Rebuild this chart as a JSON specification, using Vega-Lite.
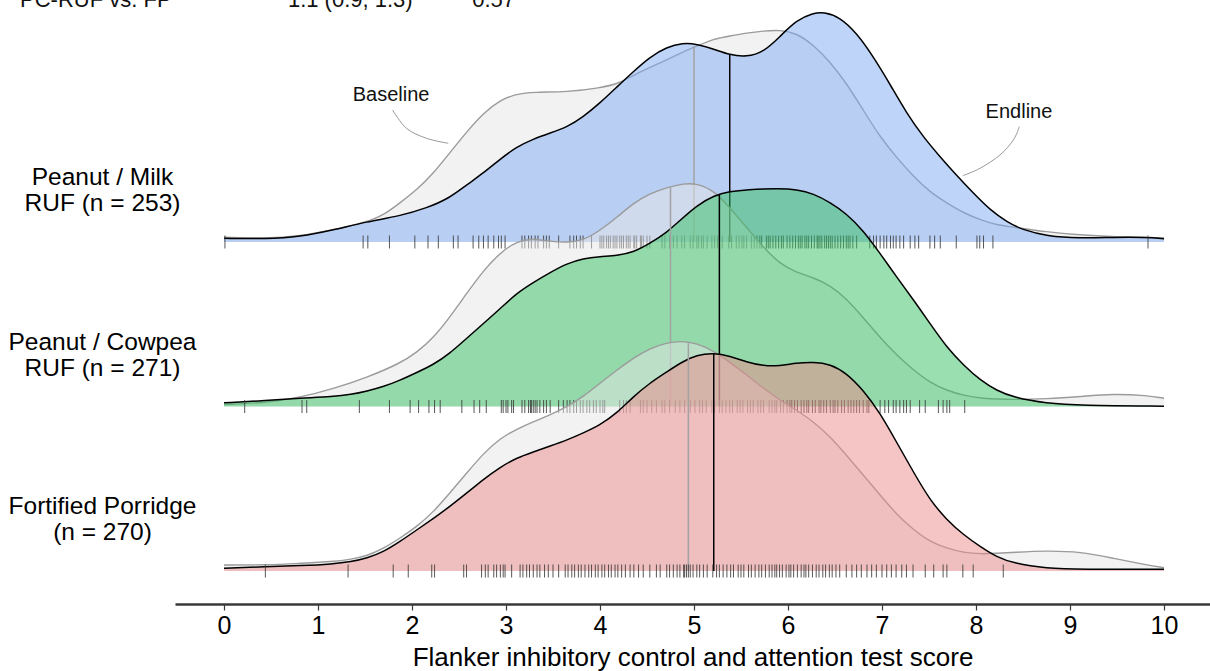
{
"$schema": "https://vega.github.io/schema/vega-lite/v6.json",
"width": 1035, "height": 604,
"autosize": {"type": "none"},
"padding": {"left": 175, "top": 0, "right": 0, "bottom": 67},
"config": {"view": {"stroke": null}, "font": "Liberation Sans", "text": {"font": "Liberation Sans"}},
"data": {"values": [
{"k":"c","g":"M","t":"E","s":0,"h":0.037},{"k":"c","g":"M","t":"E","s":0.45,"h":0.03},{"k":"c","g":"M","t":"E","s":0.81,"h":0.053},{"k":"c","g":"M","t":"E","s":1.16,"h":0.12},{"k":"c","g":"M","t":"E","s":1.52,"h":0.203},{"k":"c","g":"M","t":"E","s":1.87,"h":0.26},{"k":"c","g":"M","t":"E","s":2.16,"h":0.34},{"k":"c","g":"M","t":"E","s":2.4,"h":0.44},{"k":"c","g":"M","t":"E","s":2.58,"h":0.57},{"k":"c","g":"M","t":"E","s":2.76,"h":0.69},{"k":"c","g":"M","t":"E","s":2.94,"h":0.83},{"k":"c","g":"M","t":"E","s":3.11,"h":0.95},{"k":"c","g":"M","t":"E","s":3.29,"h":1.03},{"k":"c","g":"M","t":"E","s":3.47,"h":1.09},{"k":"c","g":"M","t":"E","s":3.65,"h":1.15},{"k":"c","g":"M","t":"E","s":3.82,"h":1.25},{"k":"c","g":"M","t":"E","s":4,"h":1.39},{"k":"c","g":"M","t":"E","s":4.18,"h":1.55},{"k":"c","g":"M","t":"E","s":4.35,"h":1.7},{"k":"c","g":"M","t":"E","s":4.53,"h":1.85},{"k":"c","g":"M","t":"E","s":4.71,"h":1.95},{"k":"c","g":"M","t":"E","s":4.88,"h":1.99},{"k":"c","g":"M","t":"E","s":5.03,"h":1.98},{"k":"c","g":"M","t":"E","s":5.21,"h":1.93},{"k":"c","g":"M","t":"E","s":5.38,"h":1.87},{"k":"c","g":"M","t":"E","s":5.56,"h":1.85},{"k":"c","g":"M","t":"E","s":5.74,"h":1.9},{"k":"c","g":"M","t":"E","s":5.91,"h":2.05},{"k":"c","g":"M","t":"E","s":6.09,"h":2.22},{"k":"c","g":"M","t":"E","s":6.27,"h":2.29},{"k":"c","g":"M","t":"E","s":6.38,"h":2.3},{"k":"c","g":"M","t":"E","s":6.55,"h":2.25},{"k":"c","g":"M","t":"E","s":6.73,"h":2.09},{"k":"c","g":"M","t":"E","s":6.91,"h":1.85},{"k":"c","g":"M","t":"E","s":7.09,"h":1.57},{"k":"c","g":"M","t":"E","s":7.26,"h":1.29},{"k":"c","g":"M","t":"E","s":7.44,"h":1.05},{"k":"c","g":"M","t":"E","s":7.62,"h":0.85},{"k":"c","g":"M","t":"E","s":7.79,"h":0.67},{"k":"c","g":"M","t":"E","s":7.97,"h":0.49},{"k":"c","g":"M","t":"E","s":8.15,"h":0.32},{"k":"c","g":"M","t":"E","s":8.33,"h":0.2},{"k":"c","g":"M","t":"E","s":8.5,"h":0.12},{"k":"c","g":"M","t":"E","s":8.75,"h":0.06},{"k":"c","g":"M","t":"E","s":9.11,"h":0.037},{"k":"c","g":"M","t":"E","s":9.46,"h":0.047},{"k":"c","g":"M","t":"E","s":9.82,"h":0.047},{"k":"c","g":"M","t":"E","s":10,"h":0.033},
{"k":"c","g":"M","t":"B","s":0,"h":0.047},{"k":"c","g":"M","t":"B","s":0.45,"h":0.033},{"k":"c","g":"M","t":"B","s":0.81,"h":0.06},{"k":"c","g":"M","t":"B","s":1.16,"h":0.12},{"k":"c","g":"M","t":"B","s":1.52,"h":0.2},{"k":"c","g":"M","t":"B","s":1.7,"h":0.27},{"k":"c","g":"M","t":"B","s":1.87,"h":0.39},{"k":"c","g":"M","t":"B","s":2.05,"h":0.52},{"k":"c","g":"M","t":"B","s":2.23,"h":0.69},{"k":"c","g":"M","t":"B","s":2.4,"h":0.89},{"k":"c","g":"M","t":"B","s":2.58,"h":1.1},{"k":"c","g":"M","t":"B","s":2.76,"h":1.29},{"k":"c","g":"M","t":"B","s":2.94,"h":1.42},{"k":"c","g":"M","t":"B","s":3.11,"h":1.48},{"k":"c","g":"M","t":"B","s":3.29,"h":1.5},{"k":"c","g":"M","t":"B","s":3.65,"h":1.5},{"k":"c","g":"M","t":"B","s":4,"h":1.54},{"k":"c","g":"M","t":"B","s":4.22,"h":1.59},{"k":"c","g":"M","t":"B","s":4.35,"h":1.67},{"k":"c","g":"M","t":"B","s":4.71,"h":1.82},{"k":"c","g":"M","t":"B","s":4.88,"h":1.9},{"k":"c","g":"M","t":"B","s":5.03,"h":1.96},{"k":"c","g":"M","t":"B","s":5.21,"h":2.03},{"k":"c","g":"M","t":"B","s":5.38,"h":2.06},{"k":"c","g":"M","t":"B","s":5.56,"h":2.09},{"k":"c","g":"M","t":"B","s":5.74,"h":2.11},{"k":"c","g":"M","t":"B","s":5.91,"h":2.12},{"k":"c","g":"M","t":"B","s":6.09,"h":2.09},{"k":"c","g":"M","t":"B","s":6.27,"h":1.97},{"k":"c","g":"M","t":"B","s":6.45,"h":1.8},{"k":"c","g":"M","t":"B","s":6.62,"h":1.59},{"k":"c","g":"M","t":"B","s":6.8,"h":1.32},{"k":"c","g":"M","t":"B","s":6.98,"h":1.05},{"k":"c","g":"M","t":"B","s":7.16,"h":0.84},{"k":"c","g":"M","t":"B","s":7.34,"h":0.65},{"k":"c","g":"M","t":"B","s":7.51,"h":0.5},{"k":"c","g":"M","t":"B","s":7.69,"h":0.39},{"k":"c","g":"M","t":"B","s":7.87,"h":0.29},{"k":"c","g":"M","t":"B","s":8.05,"h":0.22},{"k":"c","g":"M","t":"B","s":8.22,"h":0.17},{"k":"c","g":"M","t":"B","s":8.4,"h":0.15},{"k":"c","g":"M","t":"B","s":8.75,"h":0.1},{"k":"c","g":"M","t":"B","s":9.11,"h":0.07},{"k":"c","g":"M","t":"B","s":9.46,"h":0.053},{"k":"c","g":"M","t":"B","s":10,"h":0.04},
{"k":"c","g":"C","t":"E","s":0,"h":0.037},{"k":"c","g":"C","t":"E","s":0.45,"h":0.06},{"k":"c","g":"C","t":"E","s":0.81,"h":0.083},{"k":"c","g":"C","t":"E","s":1.16,"h":0.1},{"k":"c","g":"C","t":"E","s":1.35,"h":0.12},{"k":"c","g":"C","t":"E","s":1.52,"h":0.153},{"k":"c","g":"C","t":"E","s":1.7,"h":0.2},{"k":"c","g":"C","t":"E","s":1.87,"h":0.26},{"k":"c","g":"C","t":"E","s":2.05,"h":0.34},{"k":"c","g":"C","t":"E","s":2.23,"h":0.42},{"k":"c","g":"C","t":"E","s":2.4,"h":0.53},{"k":"c","g":"C","t":"E","s":2.58,"h":0.68},{"k":"c","g":"C","t":"E","s":2.76,"h":0.83},{"k":"c","g":"C","t":"E","s":2.94,"h":0.98},{"k":"c","g":"C","t":"E","s":3.11,"h":1.13},{"k":"c","g":"C","t":"E","s":3.29,"h":1.24},{"k":"c","g":"C","t":"E","s":3.47,"h":1.34},{"k":"c","g":"C","t":"E","s":3.65,"h":1.43},{"k":"c","g":"C","t":"E","s":3.82,"h":1.48},{"k":"c","g":"C","t":"E","s":4,"h":1.5},{"k":"c","g":"C","t":"E","s":4.18,"h":1.51},{"k":"c","g":"C","t":"E","s":4.35,"h":1.54},{"k":"c","g":"C","t":"E","s":4.53,"h":1.63},{"k":"c","g":"C","t":"E","s":4.71,"h":1.74},{"k":"c","g":"C","t":"E","s":4.85,"h":1.86},{"k":"c","g":"C","t":"E","s":5.03,"h":2.01},{"k":"c","g":"C","t":"E","s":5.21,"h":2.11},{"k":"c","g":"C","t":"E","s":5.38,"h":2.15},{"k":"c","g":"C","t":"E","s":5.56,"h":2.17},{"k":"c","g":"C","t":"E","s":5.91,"h":2.18},{"k":"c","g":"C","t":"E","s":6.09,"h":2.17},{"k":"c","g":"C","t":"E","s":6.27,"h":2.13},{"k":"c","g":"C","t":"E","s":6.45,"h":2.04},{"k":"c","g":"C","t":"E","s":6.62,"h":1.93},{"k":"c","g":"C","t":"E","s":6.8,"h":1.76},{"k":"c","g":"C","t":"E","s":6.98,"h":1.53},{"k":"c","g":"C","t":"E","s":7.16,"h":1.29},{"k":"c","g":"C","t":"E","s":7.34,"h":1.06},{"k":"c","g":"C","t":"E","s":7.51,"h":0.83},{"k":"c","g":"C","t":"E","s":7.69,"h":0.59},{"k":"c","g":"C","t":"E","s":7.87,"h":0.41},{"k":"c","g":"C","t":"E","s":8.05,"h":0.26},{"k":"c","g":"C","t":"E","s":8.22,"h":0.16},{"k":"c","g":"C","t":"E","s":8.4,"h":0.09},{"k":"c","g":"C","t":"E","s":8.75,"h":0.03},{"k":"c","g":"C","t":"E","s":9.11,"h":0.01},{"k":"c","g":"C","t":"E","s":10,"h":0.003},
{"k":"c","g":"C","t":"B","s":0,"h":0.02},{"k":"c","g":"C","t":"B","s":0.45,"h":0.037},{"k":"c","g":"C","t":"B","s":0.81,"h":0.09},{"k":"c","g":"C","t":"B","s":1.16,"h":0.177},{"k":"c","g":"C","t":"B","s":1.52,"h":0.29},{"k":"c","g":"C","t":"B","s":1.87,"h":0.43},{"k":"c","g":"C","t":"B","s":2.05,"h":0.54},{"k":"c","g":"C","t":"B","s":2.23,"h":0.69},{"k":"c","g":"C","t":"B","s":2.4,"h":0.89},{"k":"c","g":"C","t":"B","s":2.58,"h":1.13},{"k":"c","g":"C","t":"B","s":2.76,"h":1.36},{"k":"c","g":"C","t":"B","s":2.94,"h":1.54},{"k":"c","g":"C","t":"B","s":3.11,"h":1.65},{"k":"c","g":"C","t":"B","s":3.29,"h":1.68},{"k":"c","g":"C","t":"B","s":3.47,"h":1.65},{"k":"c","g":"C","t":"B","s":3.65,"h":1.64},{"k":"c","g":"C","t":"B","s":3.82,"h":1.66},{"k":"c","g":"C","t":"B","s":4,"h":1.76},{"k":"c","g":"C","t":"B","s":4.18,"h":1.89},{"k":"c","g":"C","t":"B","s":4.35,"h":2.03},{"k":"c","g":"C","t":"B","s":4.53,"h":2.13},{"k":"c","g":"C","t":"B","s":4.71,"h":2.19},{"k":"c","g":"C","t":"B","s":4.89,"h":2.23},{"k":"c","g":"C","t":"B","s":5.03,"h":2.23},{"k":"c","g":"C","t":"B","s":5.21,"h":2.16},{"k":"c","g":"C","t":"B","s":5.38,"h":1.99},{"k":"c","g":"C","t":"B","s":5.56,"h":1.79},{"k":"c","g":"C","t":"B","s":5.74,"h":1.59},{"k":"c","g":"C","t":"B","s":5.91,"h":1.43},{"k":"c","g":"C","t":"B","s":6.09,"h":1.34},{"k":"c","g":"C","t":"B","s":6.27,"h":1.29},{"k":"c","g":"C","t":"B","s":6.45,"h":1.21},{"k":"c","g":"C","t":"B","s":6.62,"h":1.08},{"k":"c","g":"C","t":"B","s":6.8,"h":0.89},{"k":"c","g":"C","t":"B","s":6.98,"h":0.69},{"k":"c","g":"C","t":"B","s":7.16,"h":0.51},{"k":"c","g":"C","t":"B","s":7.34,"h":0.36},{"k":"c","g":"C","t":"B","s":7.51,"h":0.24},{"k":"c","g":"C","t":"B","s":7.69,"h":0.16},{"k":"c","g":"C","t":"B","s":7.87,"h":0.11},{"k":"c","g":"C","t":"B","s":8.05,"h":0.08},{"k":"c","g":"C","t":"B","s":8.4,"h":0.067},{"k":"c","g":"C","t":"B","s":8.75,"h":0.077},{"k":"c","g":"C","t":"B","s":9.11,"h":0.1},{"k":"c","g":"C","t":"B","s":9.46,"h":0.127},{"k":"c","g":"C","t":"B","s":9.82,"h":0.11},{"k":"c","g":"C","t":"B","s":10,"h":0.083},
{"k":"c","g":"F","t":"E","s":0,"h":0.027},{"k":"c","g":"F","t":"E","s":0.45,"h":0.043},{"k":"c","g":"F","t":"E","s":0.81,"h":0.053},{"k":"c","g":"F","t":"E","s":1.16,"h":0.07},{"k":"c","g":"F","t":"E","s":1.35,"h":0.093},{"k":"c","g":"F","t":"E","s":1.52,"h":0.127},{"k":"c","g":"F","t":"E","s":1.7,"h":0.193},{"k":"c","g":"F","t":"E","s":1.87,"h":0.293},{"k":"c","g":"F","t":"E","s":2.05,"h":0.41},{"k":"c","g":"F","t":"E","s":2.23,"h":0.527},{"k":"c","g":"F","t":"E","s":2.4,"h":0.643},{"k":"c","g":"F","t":"E","s":2.58,"h":0.777},{"k":"c","g":"F","t":"E","s":2.76,"h":0.917},{"k":"c","g":"F","t":"E","s":2.94,"h":1.04},{"k":"c","g":"F","t":"E","s":3.11,"h":1.13},{"k":"c","g":"F","t":"E","s":3.29,"h":1.19},{"k":"c","g":"F","t":"E","s":3.47,"h":1.25},{"k":"c","g":"F","t":"E","s":3.65,"h":1.31},{"k":"c","g":"F","t":"E","s":3.82,"h":1.38},{"k":"c","g":"F","t":"E","s":4,"h":1.46},{"k":"c","g":"F","t":"E","s":4.18,"h":1.58},{"k":"c","g":"F","t":"E","s":4.35,"h":1.74},{"k":"c","g":"F","t":"E","s":4.53,"h":1.88},{"k":"c","g":"F","t":"E","s":4.71,"h":1.99},{"k":"c","g":"F","t":"E","s":4.87,"h":2.09},{"k":"c","g":"F","t":"E","s":5.03,"h":2.16},{"k":"c","g":"F","t":"E","s":5.21,"h":2.18},{"k":"c","g":"F","t":"E","s":5.38,"h":2.15},{"k":"c","g":"F","t":"E","s":5.56,"h":2.09},{"k":"c","g":"F","t":"E","s":5.74,"h":2.05},{"k":"c","g":"F","t":"E","s":5.91,"h":2.05},{"k":"c","g":"F","t":"E","s":6.09,"h":2.08},{"k":"c","g":"F","t":"E","s":6.27,"h":2.09},{"k":"c","g":"F","t":"E","s":6.45,"h":2.07},{"k":"c","g":"F","t":"E","s":6.62,"h":1.98},{"k":"c","g":"F","t":"E","s":6.8,"h":1.81},{"k":"c","g":"F","t":"E","s":6.98,"h":1.58},{"k":"c","g":"F","t":"E","s":7.16,"h":1.28},{"k":"c","g":"F","t":"E","s":7.34,"h":0.98},{"k":"c","g":"F","t":"E","s":7.51,"h":0.71},{"k":"c","g":"F","t":"E","s":7.69,"h":0.51},{"k":"c","g":"F","t":"E","s":7.87,"h":0.36},{"k":"c","g":"F","t":"E","s":8.05,"h":0.24},{"k":"c","g":"F","t":"E","s":8.22,"h":0.14},{"k":"c","g":"F","t":"E","s":8.4,"h":0.077},{"k":"c","g":"F","t":"E","s":8.75,"h":0.027},{"k":"c","g":"F","t":"E","s":9.11,"h":0.017},{"k":"c","g":"F","t":"E","s":10,"h":0.017},
{"k":"c","g":"F","t":"B","s":0,"h":0.06},{"k":"c","g":"F","t":"B","s":0.45,"h":0.06},{"k":"c","g":"F","t":"B","s":0.81,"h":0.077},{"k":"c","g":"F","t":"B","s":1.16,"h":0.093},{"k":"c","g":"F","t":"B","s":1.35,"h":0.117},{"k":"c","g":"F","t":"B","s":1.52,"h":0.15},{"k":"c","g":"F","t":"B","s":1.7,"h":0.227},{"k":"c","g":"F","t":"B","s":1.87,"h":0.327},{"k":"c","g":"F","t":"B","s":2.05,"h":0.443},{"k":"c","g":"F","t":"B","s":2.23,"h":0.593},{"k":"c","g":"F","t":"B","s":2.4,"h":0.777},{"k":"c","g":"F","t":"B","s":2.58,"h":0.977},{"k":"c","g":"F","t":"B","s":2.76,"h":1.177},{"k":"c","g":"F","t":"B","s":2.94,"h":1.327},{"k":"c","g":"F","t":"B","s":3.11,"h":1.417},{"k":"c","g":"F","t":"B","s":3.29,"h":1.493},{"k":"c","g":"F","t":"B","s":3.47,"h":1.56},{"k":"c","g":"F","t":"B","s":3.65,"h":1.643},{"k":"c","g":"F","t":"B","s":3.82,"h":1.743},{"k":"c","g":"F","t":"B","s":4,"h":1.877},{"k":"c","g":"F","t":"B","s":4.18,"h":2.01},{"k":"c","g":"F","t":"B","s":4.35,"h":2.127},{"k":"c","g":"F","t":"B","s":4.53,"h":2.227},{"k":"c","g":"F","t":"B","s":4.71,"h":2.283},{"k":"c","g":"F","t":"B","s":4.87,"h":2.3},{"k":"c","g":"F","t":"B","s":5.03,"h":2.277},{"k":"c","g":"F","t":"B","s":5.21,"h":2.2},{"k":"c","g":"F","t":"B","s":5.38,"h":2.09},{"k":"c","g":"F","t":"B","s":5.56,"h":1.96},{"k":"c","g":"F","t":"B","s":5.74,"h":1.827},{"k":"c","g":"F","t":"B","s":5.91,"h":1.71},{"k":"c","g":"F","t":"B","s":6.09,"h":1.61},{"k":"c","g":"F","t":"B","s":6.27,"h":1.493},{"k":"c","g":"F","t":"B","s":6.45,"h":1.343},{"k":"c","g":"F","t":"B","s":6.62,"h":1.16},{"k":"c","g":"F","t":"B","s":6.8,"h":0.96},{"k":"c","g":"F","t":"B","s":6.98,"h":0.76},{"k":"c","g":"F","t":"B","s":7.16,"h":0.56},{"k":"c","g":"F","t":"B","s":7.34,"h":0.41},{"k":"c","g":"F","t":"B","s":7.51,"h":0.293},{"k":"c","g":"F","t":"B","s":7.69,"h":0.227},{"k":"c","g":"F","t":"B","s":7.87,"h":0.183},{"k":"c","g":"F","t":"B","s":8.05,"h":0.17},{"k":"c","g":"F","t":"B","s":8.22,"h":0.177},{"k":"c","g":"F","t":"B","s":8.4,"h":0.187},{"k":"c","g":"F","t":"B","s":8.75,"h":0.203},{"k":"c","g":"F","t":"B","s":9.11,"h":0.193},{"k":"c","g":"F","t":"B","s":9.46,"h":0.127},{"k":"c","g":"F","t":"B","s":9.82,"h":0.06},{"k":"c","g":"F","t":"B","s":10,"h":0.033},
{"k":"q","g":"M","t":"B","s":5.0,"h":1.96},{"k":"q","g":"M","t":"E","s":5.38,"h":1.87},{"k":"q","g":"C","t":"B","s":4.75,"h":2.19},{"k":"q","g":"C","t":"E","s":5.27,"h":2.12},{"k":"q","g":"F","t":"B","s":4.94,"h":2.29},{"k":"q","g":"F","t":"E","s":5.21,"h":2.18},
{"k":"r","g":"M","s":0.01},{"k":"r","g":"M","s":1.48},{"k":"r","g":"M","s":1.53},{"k":"r","g":"M","s":1.76},{"k":"r","g":"M","s":2.03},{"k":"r","g":"M","s":2.17},{"k":"r","g":"M","s":2.28},{"k":"r","g":"M","s":2.44},{"k":"r","g":"M","s":2.49},{"k":"r","g":"M","s":2.65},{"k":"r","g":"M","s":2.71},{"k":"r","g":"M","s":2.76},{"k":"r","g":"M","s":2.81},{"k":"r","g":"M","s":2.87},{"k":"r","g":"M","s":2.92},{"k":"r","g":"M","s":2.95},{"k":"r","g":"M","s":2.99},{"k":"r","g":"M","s":3.17},{"k":"r","g":"M","s":3.2},{"k":"r","g":"M","s":3.24},{"k":"r","g":"M","s":3.27},{"k":"r","g":"M","s":3.31},{"k":"r","g":"M","s":3.34},{"k":"r","g":"M","s":3.4},{"k":"r","g":"M","s":3.43},{"k":"r","g":"M","s":3.46},{"k":"r","g":"M","s":3.56},{"k":"r","g":"M","s":3.68},{"k":"r","g":"M","s":3.72},{"k":"r","g":"M","s":3.75},{"k":"r","g":"M","s":3.79},{"k":"r","g":"M","s":3.82},{"k":"r","g":"M","s":3.91},{"k":"r","g":"M","s":4.0},{"k":"r","g":"M","s":4.02},{"k":"r","g":"M","s":4.04},{"k":"r","g":"M","s":4.07},{"k":"r","g":"M","s":4.09},{"k":"r","g":"M","s":4.11},{"k":"r","g":"M","s":4.14},{"k":"r","g":"M","s":4.16},{"k":"r","g":"M","s":4.18},{"k":"r","g":"M","s":4.21},{"k":"r","g":"M","s":4.23},{"k":"r","g":"M","s":4.25},{"k":"r","g":"M","s":4.28},{"k":"r","g":"M","s":4.3},{"k":"r","g":"M","s":4.32},{"k":"r","g":"M","s":4.36},{"k":"r","g":"M","s":4.37},{"k":"r","g":"M","s":4.39},{"k":"r","g":"M","s":4.43},{"k":"r","g":"M","s":4.44},{"k":"r","g":"M","s":4.46},{"k":"r","g":"M","s":4.5},{"k":"r","g":"M","s":4.53},{"k":"r","g":"M","s":4.66},{"k":"r","g":"M","s":4.69},{"k":"r","g":"M","s":4.74},{"k":"r","g":"M","s":4.78},{"k":"r","g":"M","s":4.82},{"k":"r","g":"M","s":4.87},{"k":"r","g":"M","s":4.9},{"k":"r","g":"M","s":4.96},{"k":"r","g":"M","s":4.99},{"k":"r","g":"M","s":5.03},{"k":"r","g":"M","s":5.05},{"k":"r","g":"M","s":5.08},{"k":"r","g":"M","s":5.1},{"k":"r","g":"M","s":5.14},{"k":"r","g":"M","s":5.19},{"k":"r","g":"M","s":5.22},{"k":"r","g":"M","s":5.25},{"k":"r","g":"M","s":5.3},{"k":"r","g":"M","s":5.37},{"k":"r","g":"M","s":5.4},{"k":"r","g":"M","s":5.45},{"k":"r","g":"M","s":5.48},{"k":"r","g":"M","s":5.51},{"k":"r","g":"M","s":5.53},{"k":"r","g":"M","s":5.56},{"k":"r","g":"M","s":5.61},{"k":"r","g":"M","s":5.64},{"k":"r","g":"M","s":5.67},{"k":"r","g":"M","s":5.7},{"k":"r","g":"M","s":5.72},{"k":"r","g":"M","s":5.77},{"k":"r","g":"M","s":5.79},{"k":"r","g":"M","s":5.81},{"k":"r","g":"M","s":5.84},{"k":"r","g":"M","s":5.87},{"k":"r","g":"M","s":5.9},{"k":"r","g":"M","s":5.93},{"k":"r","g":"M","s":5.95},{"k":"r","g":"M","s":5.99},{"k":"r","g":"M","s":6.02},{"k":"r","g":"M","s":6.05},{"k":"r","g":"M","s":6.08},{"k":"r","g":"M","s":6.11},{"k":"r","g":"M","s":6.13},{"k":"r","g":"M","s":6.15},{"k":"r","g":"M","s":6.18},{"k":"r","g":"M","s":6.2},{"k":"r","g":"M","s":6.22},{"k":"r","g":"M","s":6.25},{"k":"r","g":"M","s":6.28},{"k":"r","g":"M","s":6.31},{"k":"r","g":"M","s":6.32},{"k":"r","g":"M","s":6.34},{"k":"r","g":"M","s":6.36},{"k":"r","g":"M","s":6.39},{"k":"r","g":"M","s":6.41},{"k":"r","g":"M","s":6.43},{"k":"r","g":"M","s":6.45},{"k":"r","g":"M","s":6.47},{"k":"r","g":"M","s":6.5},{"k":"r","g":"M","s":6.53},{"k":"r","g":"M","s":6.56},{"k":"r","g":"M","s":6.59},{"k":"r","g":"M","s":6.62},{"k":"r","g":"M","s":6.64},{"k":"r","g":"M","s":6.66},{"k":"r","g":"M","s":6.69},{"k":"r","g":"M","s":6.73},{"k":"r","g":"M","s":6.87},{"k":"r","g":"M","s":6.91},{"k":"r","g":"M","s":6.94},{"k":"r","g":"M","s":6.98},{"k":"r","g":"M","s":7.02},{"k":"r","g":"M","s":7.05},{"k":"r","g":"M","s":7.09},{"k":"r","g":"M","s":7.12},{"k":"r","g":"M","s":7.15},{"k":"r","g":"M","s":7.19},{"k":"r","g":"M","s":7.23},{"k":"r","g":"M","s":7.3},{"k":"r","g":"M","s":7.35},{"k":"r","g":"M","s":7.39},{"k":"r","g":"M","s":7.51},{"k":"r","g":"M","s":7.56},{"k":"r","g":"M","s":7.62},{"k":"r","g":"M","s":7.79},{"k":"r","g":"M","s":8.01},{"k":"r","g":"M","s":8.04},{"k":"r","g":"M","s":8.08},{"k":"r","g":"M","s":8.18},{"k":"r","g":"M","s":9.83},
{"k":"r","g":"C","s":0.22},{"k":"r","g":"C","s":0.83},{"k":"r","g":"C","s":0.88},{"k":"r","g":"C","s":1.44},{"k":"r","g":"C","s":1.76},{"k":"r","g":"C","s":1.98},{"k":"r","g":"C","s":2.07},{"k":"r","g":"C","s":2.18},{"k":"r","g":"C","s":2.24},{"k":"r","g":"C","s":2.3},{"k":"r","g":"C","s":2.53},{"k":"r","g":"C","s":2.66},{"k":"r","g":"C","s":2.72},{"k":"r","g":"C","s":2.79},{"k":"r","g":"C","s":2.95},{"k":"r","g":"C","s":2.97},{"k":"r","g":"C","s":3.0},{"k":"r","g":"C","s":3.02},{"k":"r","g":"C","s":3.06},{"k":"r","g":"C","s":3.08},{"k":"r","g":"C","s":3.17},{"k":"r","g":"C","s":3.2},{"k":"r","g":"C","s":3.24},{"k":"r","g":"C","s":3.26},{"k":"r","g":"C","s":3.27},{"k":"r","g":"C","s":3.29},{"k":"r","g":"C","s":3.31},{"k":"r","g":"C","s":3.33},{"k":"r","g":"C","s":3.36},{"k":"r","g":"C","s":3.4},{"k":"r","g":"C","s":3.43},{"k":"r","g":"C","s":3.47},{"k":"r","g":"C","s":3.56},{"k":"r","g":"C","s":3.61},{"k":"r","g":"C","s":3.65},{"k":"r","g":"C","s":3.68},{"k":"r","g":"C","s":3.72},{"k":"r","g":"C","s":3.75},{"k":"r","g":"C","s":3.79},{"k":"r","g":"C","s":3.82},{"k":"r","g":"C","s":3.86},{"k":"r","g":"C","s":3.89},{"k":"r","g":"C","s":3.93},{"k":"r","g":"C","s":3.96},{"k":"r","g":"C","s":4.0},{"k":"r","g":"C","s":4.03},{"k":"r","g":"C","s":4.05},{"k":"r","g":"C","s":4.21},{"k":"r","g":"C","s":4.25},{"k":"r","g":"C","s":4.28},{"k":"r","g":"C","s":4.32},{"k":"r","g":"C","s":4.43},{"k":"r","g":"C","s":4.46},{"k":"r","g":"C","s":4.5},{"k":"r","g":"C","s":4.55},{"k":"r","g":"C","s":4.6},{"k":"r","g":"C","s":4.66},{"k":"r","g":"C","s":4.69},{"k":"r","g":"C","s":4.74},{"k":"r","g":"C","s":4.8},{"k":"r","g":"C","s":4.85},{"k":"r","g":"C","s":4.9},{"k":"r","g":"C","s":4.96},{"k":"r","g":"C","s":5.01},{"k":"r","g":"C","s":5.06},{"k":"r","g":"C","s":5.09},{"k":"r","g":"C","s":5.13},{"k":"r","g":"C","s":5.19},{"k":"r","g":"C","s":5.22},{"k":"r","g":"C","s":5.27},{"k":"r","g":"C","s":5.3},{"k":"r","g":"C","s":5.34},{"k":"r","g":"C","s":5.38},{"k":"r","g":"C","s":5.41},{"k":"r","g":"C","s":5.46},{"k":"r","g":"C","s":5.49},{"k":"r","g":"C","s":5.52},{"k":"r","g":"C","s":5.57},{"k":"r","g":"C","s":5.6},{"k":"r","g":"C","s":5.63},{"k":"r","g":"C","s":5.68},{"k":"r","g":"C","s":5.71},{"k":"r","g":"C","s":5.74},{"k":"r","g":"C","s":5.8},{"k":"r","g":"C","s":5.83},{"k":"r","g":"C","s":5.86},{"k":"r","g":"C","s":5.88},{"k":"r","g":"C","s":5.92},{"k":"r","g":"C","s":5.95},{"k":"r","g":"C","s":5.99},{"k":"r","g":"C","s":6.02},{"k":"r","g":"C","s":6.04},{"k":"r","g":"C","s":6.07},{"k":"r","g":"C","s":6.1},{"k":"r","g":"C","s":6.14},{"k":"r","g":"C","s":6.17},{"k":"r","g":"C","s":6.2},{"k":"r","g":"C","s":6.22},{"k":"r","g":"C","s":6.26},{"k":"r","g":"C","s":6.29},{"k":"r","g":"C","s":6.33},{"k":"r","g":"C","s":6.35},{"k":"r","g":"C","s":6.38},{"k":"r","g":"C","s":6.41},{"k":"r","g":"C","s":6.45},{"k":"r","g":"C","s":6.48},{"k":"r","g":"C","s":6.5},{"k":"r","g":"C","s":6.53},{"k":"r","g":"C","s":6.57},{"k":"r","g":"C","s":6.6},{"k":"r","g":"C","s":6.64},{"k":"r","g":"C","s":6.67},{"k":"r","g":"C","s":6.7},{"k":"r","g":"C","s":6.73},{"k":"r","g":"C","s":6.76},{"k":"r","g":"C","s":6.8},{"k":"r","g":"C","s":6.84},{"k":"r","g":"C","s":6.86},{"k":"r","g":"C","s":6.98},{"k":"r","g":"C","s":7.03},{"k":"r","g":"C","s":7.07},{"k":"r","g":"C","s":7.12},{"k":"r","g":"C","s":7.15},{"k":"r","g":"C","s":7.19},{"k":"r","g":"C","s":7.23},{"k":"r","g":"C","s":7.26},{"k":"r","g":"C","s":7.3},{"k":"r","g":"C","s":7.4},{"k":"r","g":"C","s":7.46},{"k":"r","g":"C","s":7.6},{"k":"r","g":"C","s":7.65},{"k":"r","g":"C","s":7.69},{"k":"r","g":"C","s":7.72},{"k":"r","g":"C","s":7.88},
{"k":"r","g":"F","s":0.44},{"k":"r","g":"F","s":1.32},{"k":"r","g":"F","s":1.8},{"k":"r","g":"F","s":1.96},{"k":"r","g":"F","s":2.21},{"k":"r","g":"F","s":2.24},{"k":"r","g":"F","s":2.55},{"k":"r","g":"F","s":2.58},{"k":"r","g":"F","s":2.74},{"k":"r","g":"F","s":2.78},{"k":"r","g":"F","s":2.81},{"k":"r","g":"F","s":2.87},{"k":"r","g":"F","s":2.9},{"k":"r","g":"F","s":2.94},{"k":"r","g":"F","s":2.97},{"k":"r","g":"F","s":2.99},{"k":"r","g":"F","s":3.06},{"k":"r","g":"F","s":3.15},{"k":"r","g":"F","s":3.18},{"k":"r","g":"F","s":3.22},{"k":"r","g":"F","s":3.25},{"k":"r","g":"F","s":3.29},{"k":"r","g":"F","s":3.33},{"k":"r","g":"F","s":3.36},{"k":"r","g":"F","s":3.41},{"k":"r","g":"F","s":3.45},{"k":"r","g":"F","s":3.5},{"k":"r","g":"F","s":3.56},{"k":"r","g":"F","s":3.63},{"k":"r","g":"F","s":3.66},{"k":"r","g":"F","s":3.7},{"k":"r","g":"F","s":3.73},{"k":"r","g":"F","s":3.77},{"k":"r","g":"F","s":3.8},{"k":"r","g":"F","s":3.84},{"k":"r","g":"F","s":3.88},{"k":"r","g":"F","s":3.91},{"k":"r","g":"F","s":3.95},{"k":"r","g":"F","s":3.98},{"k":"r","g":"F","s":4.02},{"k":"r","g":"F","s":4.05},{"k":"r","g":"F","s":4.09},{"k":"r","g":"F","s":4.12},{"k":"r","g":"F","s":4.16},{"k":"r","g":"F","s":4.19},{"k":"r","g":"F","s":4.23},{"k":"r","g":"F","s":4.27},{"k":"r","g":"F","s":4.32},{"k":"r","g":"F","s":4.36},{"k":"r","g":"F","s":4.41},{"k":"r","g":"F","s":4.46},{"k":"r","g":"F","s":4.53},{"k":"r","g":"F","s":4.6},{"k":"r","g":"F","s":4.64},{"k":"r","g":"F","s":4.71},{"k":"r","g":"F","s":4.74},{"k":"r","g":"F","s":4.78},{"k":"r","g":"F","s":4.82},{"k":"r","g":"F","s":4.85},{"k":"r","g":"F","s":4.89},{"k":"r","g":"F","s":4.9},{"k":"r","g":"F","s":4.92},{"k":"r","g":"F","s":4.94},{"k":"r","g":"F","s":4.96},{"k":"r","g":"F","s":4.99},{"k":"r","g":"F","s":5.03},{"k":"r","g":"F","s":5.06},{"k":"r","g":"F","s":5.1},{"k":"r","g":"F","s":5.14},{"k":"r","g":"F","s":5.2},{"k":"r","g":"F","s":5.24},{"k":"r","g":"F","s":5.27},{"k":"r","g":"F","s":5.31},{"k":"r","g":"F","s":5.35},{"k":"r","g":"F","s":5.39},{"k":"r","g":"F","s":5.42},{"k":"r","g":"F","s":5.47},{"k":"r","g":"F","s":5.5},{"k":"r","g":"F","s":5.53},{"k":"r","g":"F","s":5.58},{"k":"r","g":"F","s":5.61},{"k":"r","g":"F","s":5.65},{"k":"r","g":"F","s":5.69},{"k":"r","g":"F","s":5.72},{"k":"r","g":"F","s":5.76},{"k":"r","g":"F","s":5.8},{"k":"r","g":"F","s":5.83},{"k":"r","g":"F","s":5.86},{"k":"r","g":"F","s":5.88},{"k":"r","g":"F","s":5.91},{"k":"r","g":"F","s":5.94},{"k":"r","g":"F","s":5.98},{"k":"r","g":"F","s":6.01},{"k":"r","g":"F","s":6.03},{"k":"r","g":"F","s":6.06},{"k":"r","g":"F","s":6.1},{"k":"r","g":"F","s":6.14},{"k":"r","g":"F","s":6.17},{"k":"r","g":"F","s":6.19},{"k":"r","g":"F","s":6.22},{"k":"r","g":"F","s":6.26},{"k":"r","g":"F","s":6.3},{"k":"r","g":"F","s":6.33},{"k":"r","g":"F","s":6.37},{"k":"r","g":"F","s":6.4},{"k":"r","g":"F","s":6.44},{"k":"r","g":"F","s":6.47},{"k":"r","g":"F","s":6.51},{"k":"r","g":"F","s":6.55},{"k":"r","g":"F","s":6.62},{"k":"r","g":"F","s":6.68},{"k":"r","g":"F","s":6.73},{"k":"r","g":"F","s":6.78},{"k":"r","g":"F","s":6.84},{"k":"r","g":"F","s":6.89},{"k":"r","g":"F","s":6.94},{"k":"r","g":"F","s":7.0},{"k":"r","g":"F","s":7.05},{"k":"r","g":"F","s":7.1},{"k":"r","g":"F","s":7.15},{"k":"r","g":"F","s":7.21},{"k":"r","g":"F","s":7.26},{"k":"r","g":"F","s":7.33},{"k":"r","g":"F","s":7.46},{"k":"r","g":"F","s":7.55},{"k":"r","g":"F","s":7.65},{"k":"r","g":"F","s":7.69},{"k":"r","g":"F","s":7.86},{"k":"r","g":"F","s":7.97},{"k":"r","g":"F","s":8.29}
]},
"transform": [
  {"calculate": "indexof(['F','C','M'], datum.g) * 1.645", "as": "yb"},
  {"calculate": "datum.yb + (datum.h || 0)", "as": "y"}
],
"encoding": {
  "x": {"field": "s", "type": "quantitative",
    "scale": {"domain": [-0.5213, 10.4894], "nice": false, "zero": false},
    "axis": {"values": [0,1,2,3,4,5,6,7,8,9,10], "format": "d", "grid": false,
      "domainColor": "#3a3a3a", "domainWidth": 2.5, "tickColor": "#3a3a3a", "tickWidth": 1.2, "tickSize": 6,
      "labelFontSize": 25, "labelColor": "#000", "labelPadding": 3,
      "title": "Flanker inhibitory control and attention test score", "titleFontSize": 26, "titleFontWeight": "normal", "titleColor": "#000", "titlePadding": 6}},
  "y": {"field": "y", "type": "quantitative",
    "scale": {"domain": [-0.33, 5.71], "nice": false, "zero": false},
    "axis": {"values": [0.645, 2.29, 3.935], "grid": false, "domain": false, "ticks": false, "title": null,
      "labelExpr": "datum.value < 1 ? ['Fortified Porridge', '(n = 270)'] : datum.value < 3 ? ['Peanut / Cowpea', 'RUF (n = 271)'] : ['Peanut / Milk', 'RUF (n = 253)']",
      "labelFontSize": 24.5, "labelColor": "#000", "labelAlign": "center", "labelBaseline": "middle", "labelPadding": 73, "labelLineHeight": 26, "labelLimit": 0, "labelOverlap": false}}
},
"layer": [
  {"transform": [{"filter": "datum.k=='c' && datum.g=='M' && datum.t=='B'"}], "mark": {"type": "area", "interpolate": "basis", "fill": "#e5e5e5", "fillOpacity": 0.5}, "encoding": {"y2": {"field": "yb"}}},
  {"transform": [{"filter": "datum.k=='c' && datum.g=='M' && datum.t=='B'"}], "mark": {"type": "line", "interpolate": "basis", "stroke": "#9b9b9b", "strokeWidth": 1.4}},
  {"transform": [{"filter": "datum.k=='c' && datum.g=='M' && datum.t=='E'"}], "mark": {"type": "area", "interpolate": "basis", "fill": "#7eaaf4", "fillOpacity": 0.5}, "encoding": {"y2": {"field": "yb"}}},
  {"transform": [{"filter": "datum.k=='c' && datum.g=='M' && datum.t=='E'"}], "mark": {"type": "line", "interpolate": "basis", "stroke": "#000", "strokeWidth": 1.5}},
  {"transform": [{"filter": "datum.k=='q' && datum.g=='M'"}], "mark": {"type": "rule", "strokeWidth": 1.5}, "encoding": {"y2": {"field": "yb"}, "stroke": {"condition": {"test": "datum.t=='B'", "value": "#a3a3a3"}, "value": "#000"}}},
  {"transform": [{"filter": "datum.k=='r' && datum.g=='M'"}], "mark": {"type": "tick", "orient": "vertical", "size": 13, "thickness": 1, "color": "#3a3a3a", "opacity": 0.85}},

  {"transform": [{"filter": "datum.k=='c' && datum.g=='C' && datum.t=='B'"}], "mark": {"type": "area", "interpolate": "basis", "fill": "#e5e5e5", "fillOpacity": 0.5}, "encoding": {"y2": {"field": "yb"}}},
  {"transform": [{"filter": "datum.k=='c' && datum.g=='C' && datum.t=='B'"}], "mark": {"type": "line", "interpolate": "basis", "stroke": "#9b9b9b", "strokeWidth": 1.4}},
  {"transform": [{"filter": "datum.k=='c' && datum.g=='C' && datum.t=='E'"}], "mark": {"type": "area", "interpolate": "basis", "fill": "#34c062", "fillOpacity": 0.5}, "encoding": {"y2": {"field": "yb"}}},
  {"transform": [{"filter": "datum.k=='c' && datum.g=='C' && datum.t=='E'"}], "mark": {"type": "line", "interpolate": "basis", "stroke": "#000", "strokeWidth": 1.5}},
  {"transform": [{"filter": "datum.k=='q' && datum.g=='C'"}], "mark": {"type": "rule", "strokeWidth": 1.5}, "encoding": {"y2": {"field": "yb"}, "stroke": {"condition": {"test": "datum.t=='B'", "value": "#a3a3a3"}, "value": "#000"}}},
  {"transform": [{"filter": "datum.k=='r' && datum.g=='C'"}], "mark": {"type": "tick", "orient": "vertical", "size": 13, "thickness": 1, "color": "#3a3a3a", "opacity": 0.85}},

  {"transform": [{"filter": "datum.k=='c' && datum.g=='F' && datum.t=='B'"}], "mark": {"type": "area", "interpolate": "basis", "fill": "#e5e5e5", "fillOpacity": 0.5}, "encoding": {"y2": {"field": "yb"}}},
  {"transform": [{"filter": "datum.k=='c' && datum.g=='F' && datum.t=='B'"}], "mark": {"type": "line", "interpolate": "basis", "stroke": "#9b9b9b", "strokeWidth": 1.4}},
  {"transform": [{"filter": "datum.k=='c' && datum.g=='F' && datum.t=='E'"}], "mark": {"type": "area", "interpolate": "basis", "fill": "#eb8a8a", "fillOpacity": 0.5}, "encoding": {"y2": {"field": "yb"}}},
  {"transform": [{"filter": "datum.k=='c' && datum.g=='F' && datum.t=='E'"}], "mark": {"type": "line", "interpolate": "basis", "stroke": "#000", "strokeWidth": 1.5}},
  {"transform": [{"filter": "datum.k=='q' && datum.g=='F'"}], "mark": {"type": "rule", "strokeWidth": 1.5}, "encoding": {"y2": {"field": "yb"}, "stroke": {"condition": {"test": "datum.t=='B'", "value": "#a3a3a3"}, "value": "#000"}}},
  {"transform": [{"filter": "datum.k=='r' && datum.g=='F'"}], "mark": {"type": "tick", "orient": "vertical", "size": 13, "thickness": 1, "color": "#3a3a3a", "opacity": 0.85}},

  {"data": {"values": [
    {"n": "b", "s": 1.793, "y": 4.61}, {"n": "b", "s": 1.941, "y": 4.427}, {"n": "b", "s": 2.154, "y": 4.327}, {"n": "b", "s": 2.386, "y": 4.277},
    {"n": "e", "s": 7.859, "y": 3.953}, {"n": "e", "s": 8.043, "y": 4.027}, {"n": "e", "s": 8.255, "y": 4.16}, {"n": "e", "s": 8.397, "y": 4.31}, {"n": "e", "s": 8.461, "y": 4.443}]},
   "mark": {"type": "line", "interpolate": "cardinal", "stroke": "#999", "strokeWidth": 1}, "encoding": {"detail": {"field": "n"}}},
  {"data": {"values": [{"label": "Baseline", "s": 1.777, "y": 4.70}, {"label": "Endline", "s": 8.457, "y": 4.53}]},
   "mark": {"type": "text", "fontSize": 20, "align": "center", "baseline": "alphabetic", "color": "#111"}, "encoding": {"text": {"field": "label"}}},
  {"data": {"values": [{"label": "PC-RUF vs. FP", "s": -2.17, "y": 5.64}, {"label": "1.1 (0.9, 1.3)", "s": 0.68, "y": 5.64}, {"label": "0.57", "s": 2.64, "y": 5.64}]},
   "mark": {"type": "text", "fontSize": 22, "align": "left", "baseline": "alphabetic", "color": "#111"}, "encoding": {"text": {"field": "label"}}}
]
}
